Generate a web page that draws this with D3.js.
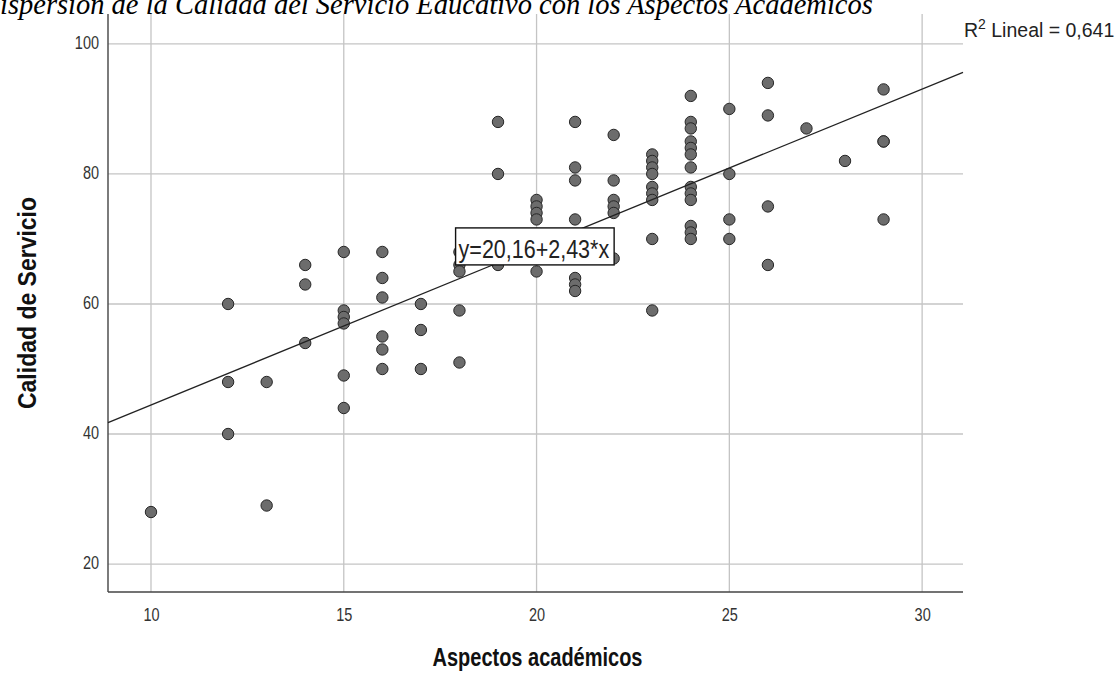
<!DOCTYPE html>
<html>
<head>
<meta charset="utf-8">
<script src="https://cdn.jsdelivr.net/npm/d3@7"></script>
<style>
  html, body { margin: 0; padding: 0; background: #ffffff; overflow: hidden; }
  svg { display: block; }
</style>
</head>
<body>
<svg id="chart" width="1116" height="682"></svg>
<script>
// ---- Data ----
const titleText = "Dispersión de la Calidad del Servicio Educativo con los Aspectos Académicos";
const xLabel = "Aspectos académicos";
const yLabel = "Calidad de Servicio";
const xTicks = [10, 15, 20, 25, 30];
const yTicks = [20, 40, 60, 80, 100];
// Aspectos académicos (x) and Calidad de Servicio (y), paired by index
const aspectos = [
  10,
  12, 12, 12,
  13, 13,
  14, 14, 14,
  15, 15, 15, 15, 15, 15,
  16, 16, 16, 16, 16, 16,
  17, 17, 17,
  18, 18, 18, 18, 18,
  19, 19, 19,
  20, 20, 20, 20, 20,
  21, 21, 21, 21, 21, 21, 21,
  22, 22, 22, 22, 22, 22,
  23, 23, 23, 23, 23, 23, 23, 23, 23,
  24, 24, 24, 24, 24, 24, 24, 24, 24, 24, 24, 24, 24,
  25, 25, 25, 25,
  26, 26, 26, 26,
  27,
  28,
  29, 29, 29, 29
];
const calidad = [
  28,
  60, 48, 40,
  48, 29,
  66, 63, 54,
  68, 59, 58, 57, 49, 44,
  68, 64, 61, 55, 53, 50,
  60, 56, 50,
  68, 66, 65, 59, 51,
  88, 80, 66,
  76, 75, 74, 73, 65,
  88, 81, 79, 73, 64, 63, 62,
  86, 79, 76, 75, 74, 67,
  83, 82, 81, 80, 78, 77, 76, 70, 59,
  92, 88, 87, 85, 84, 83, 81, 78, 77, 76, 72, 71, 70,
  90, 80, 73, 70,
  94, 89, 75, 66,
  87,
  82,
  93, 85, 85, 73
];
// Linear fit reported in the chart
const fitIntercept = 20.16;
const fitSlope = 2.43;
const fitLabel = "y=20,16+2,43*x";
const r2Value = "0,641";

// ---- Layout ----
const svg = d3.select("#chart");
const plot = { left: 108, right: 963, top: 14, bottom: 592 };
const SANS = "Arial, 'Liberation Sans', sans-serif";
const STRETCH = 1.25; // reference text is vertically stretched

const x = d3.scaleLinear().domain([8.885, 31.06]).range([plot.left, plot.right]);
const y = d3.scaleLinear().domain([15.7, 104.6]).range([plot.bottom, plot.top]);

// Title (cut off at the top edge as in the reference)
const title = svg.append("text")
  .attr("font-family", "'Liberation Serif', 'Times New Roman', serif")
  .attr("font-style", "italic")
  .attr("font-size", 24)
  .attr("fill", "#000")
  .attr("y", 14)
  .text(titleText);
{
  const full = title.node().getComputedTextLength();
  const tmp = svg.append("text").attr("font-family", "'Liberation Serif', serif")
    .attr("font-style", "italic").attr("font-size", 24).text(titleText.slice(0, 1));
  const dW = tmp.node().getComputedTextLength();
  tmp.remove();
  const k = 873 / (full - dW);
  title.attr("font-size", 24 * k).attr("x", -dW * k);
}

// Gridlines
const grid = svg.append("g");
grid.selectAll("line.v").data(xTicks).join("line")
  .attr("x1", d => x(d)).attr("x2", d => x(d))
  .attr("y1", plot.top).attr("y2", plot.bottom)
  .attr("stroke", "#c4c4c4").attr("stroke-width", 1.3);
grid.selectAll("line.h").data(yTicks).join("line")
  .attr("y1", d => y(d)).attr("y2", d => y(d))
  .attr("x1", plot.left).attr("x2", plot.right)
  .attr("stroke", "#c4c4c4").attr("stroke-width", 1.3);

// Axes
const xAxis = d3.axisBottom(x).tickValues(xTicks).tickSize(0).tickFormat(d3.format("d"));
const yAxis = d3.axisLeft(y).tickValues(yTicks).tickSize(0).tickPadding(9).tickFormat(d3.format("d"));

const gx = svg.append("g").attr("transform", `translate(0,${plot.bottom})`).call(xAxis);
const gy = svg.append("g").attr("transform", `translate(${plot.left},0)`).call(yAxis);
[gx, gy].forEach(g => {
  g.select(".domain").attr("stroke", "#444").attr("stroke-width", 1.4);
  g.selectAll("text").attr("font-family", SANS).attr("font-size", 14.5).attr("fill", "#333")
    .attr("transform", `scale(1,${STRETCH})`);
});
gx.selectAll("text").attr("dy", 0).attr("y", 29 / STRETCH);
gy.selectAll("text").attr("dy", "0.27em");
gx.select(".domain").attr("d", `M${plot.left},0H${plot.right}`);
gy.select(".domain").attr("d", `M0,${plot.top}V${plot.bottom}`);

// Points
const pts = aspectos.map((a, i) => ({ a, c: calidad[i] }));
svg.append("g").selectAll("circle").data(pts).join("circle")
  .attr("cx", d => x(d.a)).attr("cy", d => y(d.c)).attr("r", 5.7)
  .attr("fill", "#6c6c6c").attr("stroke", "#262626").attr("stroke-width", 1);

// Fit line
const xd = x.domain();
svg.append("line")
  .attr("x1", x(xd[0])).attr("y1", y(fitIntercept + fitSlope * xd[0]))
  .attr("x2", x(xd[1])).attr("y2", y(fitIntercept + fitSlope * xd[1]))
  .attr("stroke", "#222").attr("stroke-width", 1.3);

// Fit equation label box
const lab = svg.append("g").attr("transform", `translate(${x(17.9)},${y(71.7)})`);
const labText = lab.append("text")
  .attr("transform", `translate(3,30) scale(1,1.2)`)
  .attr("font-family", SANS)
  .attr("font-size", 21.5).attr("fill", "#222").text(fitLabel);
const tw = labText.node().getComputedTextLength();
lab.insert("rect", "text").attr("x", 0).attr("y", 0)
  .attr("width", tw + 8).attr("height", 37)
  .attr("fill", "#fff").attr("stroke", "#111").attr("stroke-width", 1.4);

// R² label
const r2 = svg.append("text").attr("transform", "translate(964,37) scale(1,1.05)")
  .attr("font-family", SANS)
  .attr("font-size", 19.5).attr("fill", "#222");
r2.append("tspan").text("R");
r2.append("tspan").attr("font-size", 14).attr("dy", -8).text("2");
r2.append("tspan").attr("dy", 8).text(" Lineal = " + r2Value);

// Axis titles
svg.append("text")
  .attr("transform", `translate(${(plot.left + plot.right) / 2 + 2},666) scale(1,${STRETCH})`)
  .attr("text-anchor", "middle")
  .attr("font-family", SANS)
  .attr("font-size", 20).attr("font-weight", "bold").attr("fill", "#111")
  .text(xLabel);
svg.append("text")
  .attr("transform", `translate(36,${(plot.top + plot.bottom) / 2 + 0}) rotate(-90) scale(1,1.15)`)
  .attr("text-anchor", "middle")
  .attr("font-family", SANS)
  .attr("font-size", 23).attr("font-weight", "bold").attr("fill", "#111")
  .text(yLabel);
</script>
</body>
</html>
